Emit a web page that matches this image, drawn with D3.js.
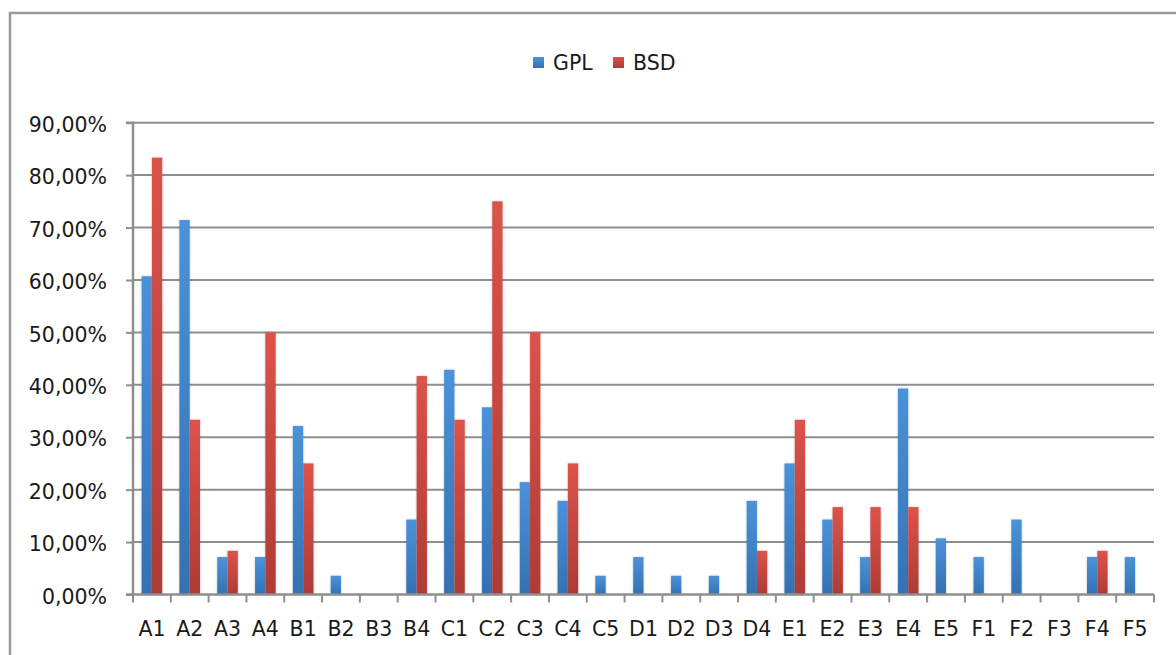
<!DOCTYPE html>
<html>
<head>
<meta charset="utf-8">
<script src="https://cdn.jsdelivr.net/npm/d3@7"></script>
<style>
  html, body { margin: 0; padding: 0; background: #fff; }
  svg { display: block; }
  text { font-family: "DejaVu Sans", "Liberation Sans", sans-serif; fill: #1a1a1a; }
</style>
</head>
<body>
<svg id="chart" width="1176" height="655"></svg>
<script>
// Categories along the x axis
const categories = ["A1","A2","A3","A4","B1","B2","B3","B4","C1","C2","C3","C4","C5",
                    "D1","D2","D3","D4","E1","E2","E3","E4","E5","F1","F2","F3","F4","F5"];
// Share per category (percent)
const gplValues = [60.71,71.43,7.14,7.14,32.14,3.57,0,14.29,42.86,35.71,21.43,17.86,3.57,
                   7.14,3.57,3.57,17.86,25.00,14.29,7.14,39.29,10.71,7.14,14.29,0,7.14,7.14];
const bsdValues = [83.33,33.33,8.33,50.00,25.00,0,0,41.67,33.33,75.00,50.00,25.00,0,
                   0,0,0,8.33,33.33,16.67,16.67,16.67,0,0,0,0,8.33,0];
const seriesNames = ["GPL","BSD"];
const yTicks = [0,10,20,30,40,50,60,70,80,90];

const svg = d3.select("#chart");
const W = 1176, H = 655;
const plot = { left: 133, right: 1154, top: 122.7, bottom: 594.5 };

// Outer frame (only top and left edges fall inside the view)
svg.append("path")
  .attr("d", `M10,${H + 5} L10,13 L${W + 5},13`)
  .attr("fill", "none").attr("stroke", "#9a9a9a").attr("stroke-width", 2.5);

const defs = svg.append("defs");
const grads = [
  { id: "gGPL", top: "#4b92da", bottom: "#3471b2" },
  { id: "gBSD", top: "#dc534a", bottom: "#ae3b35" }
];
grads.forEach(g => {
  const lg = defs.append("linearGradient").attr("id", g.id)
    .attr("x1", 0).attr("y1", 0).attr("x2", 0).attr("y2", 1);
  lg.append("stop").attr("offset", "0%").attr("stop-color", g.top);
  lg.append("stop").attr("offset", "100%").attr("stop-color", g.bottom);
});
const shadow = defs.append("filter").attr("id", "soft")
  .attr("x", "-50%").attr("y", "-10%").attr("width", "200%").attr("height", "120%");
shadow.append("feGaussianBlur").attr("in", "SourceAlpha").attr("stdDeviation", 1.2).attr("result", "b");
shadow.append("feOffset").attr("in", "b").attr("dx", 0).attr("dy", 0).attr("result", "o");
shadow.append("feComponentTransfer").attr("in", "o").attr("result", "s")
  .append("feFuncA").attr("type", "linear").attr("slope", 0.25);
const fm = shadow.append("feMerge");
fm.append("feMergeNode").attr("in", "s");
fm.append("feMergeNode").attr("in", "SourceGraphic");

const x = d3.scaleBand().domain(categories).range([plot.left, plot.right]).paddingInner(0).paddingOuter(0);
const groupFrac = 0.545;
const x1 = d3.scaleBand().domain(seriesNames)
  .range([x.bandwidth() * (1 - groupFrac) / 2, x.bandwidth() * (1 + groupFrac) / 2]);
const y = d3.scaleLinear().domain([0, 90]).range([plot.bottom, plot.top]);

// Gridlines
svg.append("g")
  .selectAll("line").data(yTicks.filter(t => t > 0)).join("line")
  .attr("x1", plot.left).attr("x2", plot.right)
  .attr("y1", d => y(d)).attr("y2", d => y(d))
  .attr("stroke", "#8e8e8e").attr("stroke-width", 2);

// Y axis
const yAxis = d3.axisLeft(y).tickValues(yTicks).tickSize(7).tickPadding(19)
  .tickFormat(d => d.toFixed(2).replace(".", ",") + "%");
const gy = svg.append("g").attr("transform", `translate(${plot.left},0)`).call(yAxis);
gy.select(".domain").attr("stroke", "#8e8e8e").attr("stroke-width", 2.5)
  .attr("d", `M-7,${plot.bottom}H0V${plot.top}H-7`);
gy.selectAll(".tick line").attr("stroke", "#8e8e8e").attr("stroke-width", 2);
gy.selectAll(".tick text").attr("font-size", 20.5).attr("dy", "0.42em")
  .attr("font-family", "DejaVu Sans").attr("fill", "#1a1a1a");

// Bars
const seriesData = [gplValues, bsdValues];
const barG = svg.append("g").attr("filter", "url(#soft)");
seriesNames.forEach((name, si) => {
  barG.append("g").selectAll("rect")
    .data(categories.map((c, i) => ({ c, v: seriesData[si][i] })).filter(d => d.v > 0))
    .join("rect")
    .attr("x", d => x(d.c) + x1(name))
    .attr("width", x1.bandwidth())
    .attr("y", d => y(d.v))
    .attr("height", d => y(0) - y(d.v))
    .attr("fill", `url(#${grads[si].id})`);
});

// X axis
const xAxis = d3.axisBottom(x).tickSize(0).tickPadding(27);
const gx = svg.append("g").attr("transform", `translate(0,${plot.bottom})`).call(xAxis);
gx.select(".domain").attr("stroke", "#8e8e8e").attr("stroke-width", 2.5)
  .attr("d", `M${plot.left},0H${plot.right}`);
gx.selectAll(".tick text").attr("font-size", 20.5)
  .attr("font-family", "DejaVu Sans").attr("fill", "#1a1a1a");
// Category boundary ticks
svg.append("g").selectAll("line")
  .data(categories.map(c => x(c)).concat([plot.right]))
  .join("line")
  .attr("x1", d => d).attr("x2", d => d)
  .attr("y1", plot.bottom).attr("y2", plot.bottom + 8)
  .attr("stroke", "#8e8e8e").attr("stroke-width", 2);

// Legend
const legend = svg.append("g").attr("transform", "translate(533,57)");
const legendX = [0, 80];
seriesNames.forEach((name, i) => {
  const g = legend.append("g").attr("transform", `translate(${legendX[i]},0)`);
  g.append("rect").attr("width", 11).attr("height", 11).attr("fill", `url(#${grads[i].id})`);
  g.append("text").attr("x", 20).attr("y", 5.5).attr("dy", "0.36em")
    .attr("font-size", 20.5).text(name);
});
</script>
</body>
</html>
